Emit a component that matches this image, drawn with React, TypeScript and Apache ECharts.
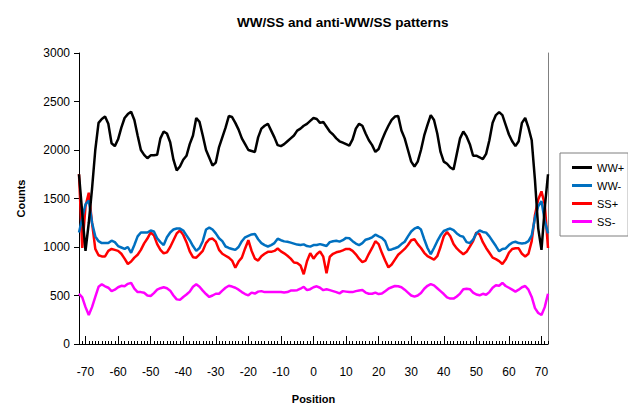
import { useEffect, useRef } from "react";
import * as echarts from "echarts";

// Categories: positions -72 .. 72
const positions: string[] = [];
for (let p = -72; p <= 72; p++) positions.push(String(p));

const seriesNames = ["WW+", "WW-", "SS+", "SS-"];
const seriesColors = ["#000000", "#0070C0", "#FF0000", "#FF00FF"];

const wwPlus = [
  1750, 1350, 960, 1250, 1600, 2000, 2280, 2320, 2345, 2270,
  2070, 2040, 2110, 2230, 2330, 2370, 2395, 2310, 2150, 2000,
  1950, 1915, 1945, 1945, 1950, 2120, 2190, 2170, 2080, 1900,
  1790, 1830, 1900, 1940, 2060, 2150, 2330, 2290, 2150, 2000,
  1920, 1840, 1870, 2030, 2130, 2230, 2350, 2340, 2280, 2210,
  2120, 2060, 2000, 1990, 1980, 2130, 2220, 2250, 2270, 2200,
  2130, 2050, 2040, 2060, 2090, 2120, 2150, 2200, 2220, 2250,
  2270, 2300, 2330, 2320, 2280, 2290, 2240, 2190, 2160, 2120,
  2090, 2075, 2060, 2045, 2110, 2220, 2270, 2250, 2170, 2100,
  2050, 1980, 2010, 2100, 2180, 2250, 2310, 2345, 2350, 2200,
  2120, 2000, 1880, 1830, 1880, 2000, 2150, 2260, 2360, 2310,
  2170, 1980, 1880, 1858, 1820, 1800, 1960, 2120, 2190, 2140,
  2060, 1941, 1941, 1925, 1905, 1960, 2100, 2280, 2360, 2390,
  2360, 2260, 2160, 2090, 2040, 2090, 2280, 2330, 2230, 2100,
  1690, 1190, 970, 1400, 1750,
];

const wwMinus = [
  1150, 1300, 1440, 1480, 1250, 1110, 1060, 1040, 1040, 1040,
  1065, 1050, 1010, 995, 980, 1000, 940, 1020, 1110, 1150,
  1150, 1150, 1170, 1160, 1090, 1050, 1020, 1100, 1150, 1180,
  1190, 1190, 1170, 1120, 1070, 1010, 960, 990, 1060, 1180,
  1200, 1180, 1140, 1090, 1060, 1005, 990, 980, 970, 1000,
  1060, 1100, 1115, 1130, 1135, 1080, 1040, 1020, 1005, 1020,
  1040, 1085, 1070, 1058, 1054, 1045, 1035, 1025, 1020, 1027,
  1010, 1004, 1020, 1020, 1030, 1020, 1010, 1050, 1060, 1064,
  1055, 1070, 1094, 1090, 1060, 1035, 1020, 1040, 1075, 1085,
  1100, 1127, 1110, 1095, 1060, 970, 975, 987, 1000, 1030,
  1054, 1110, 1160, 1190, 1205, 1180, 1080, 990, 926, 990,
  1060, 1120, 1165, 1180, 1190, 1175, 1140, 1115, 1105, 1050,
  1040, 1075, 1140, 1170, 1155, 1148, 1110, 1060, 1010, 955,
  980, 985, 1020, 1045, 1054, 1040, 1037, 1040, 1060, 1120,
  1300, 1420, 1473, 1270, 1140,
];

const ssPlus = [
  1750, 990, 1420, 1560, 1250, 980, 915, 903, 903, 960,
  980, 970, 960, 930, 880, 825, 850, 890, 920, 970,
  1037, 1087, 1150, 1120, 1030, 970, 935, 945, 1000, 1070,
  1140, 1170, 1125, 1050, 955, 895, 890, 925, 960, 1040,
  1080, 1087, 1055, 970, 930, 910, 890, 860, 786, 850,
  890, 985, 1070, 960, 880, 860, 905, 930, 950, 950,
  960, 985, 955, 935, 910, 880, 840, 836, 810, 719,
  853, 937, 880, 925, 955, 900, 730, 900, 930, 945,
  953, 965, 980, 980, 960, 925, 880, 845, 860, 930,
  990, 1060, 1030, 940, 860, 790, 820, 870, 920, 950,
  980, 1020, 1070, 1080, 1030, 990, 940, 905, 887, 870,
  905, 1000, 1110, 1154, 1110, 1030, 985, 953, 925, 950,
  1004, 1060, 1150, 1130, 1050, 990, 940, 890, 875, 855,
  825, 870, 940, 980, 987, 987, 930, 903, 930, 1060,
  1330, 1490, 1573, 1440, 990,
];

const ssMinus = [
  518, 480, 380, 300, 380, 485, 590, 615, 595, 580,
  545, 560, 585, 600, 595, 620, 630, 570, 535, 535,
  528, 500, 495, 525, 560, 575, 585, 575, 550, 500,
  460, 455, 485, 510, 540, 590, 615, 590, 550, 515,
  485, 500, 518, 518, 550, 580, 600, 592, 580, 560,
  535, 515, 502, 530, 520, 540, 545, 535, 535, 535,
  535, 535, 535, 530, 535, 551, 551, 555, 570, 590,
  555, 565, 585, 595, 580, 555, 565, 555, 545, 535,
  522, 545, 540, 535, 535, 545, 552, 556, 530, 518,
  518, 530, 515, 520, 545, 570, 585, 598, 595, 585,
  560, 530, 500, 488, 500, 525, 570, 600, 618, 605,
  575, 545, 515, 480, 468, 468, 490, 520, 565, 570,
  565, 530, 510, 502, 518, 508, 535, 580, 605, 600,
  630, 598, 580, 560, 540, 560, 585, 598, 560, 485,
  370, 320, 300, 380, 518,
];

const seriesData = [wwPlus, wwMinus, ssPlus, ssMinus];

const FONT = "'Liberation Sans', Arial, sans-serif";

export default function App() {
  const ref = useRef<HTMLDivElement>(null);
  useEffect(() => {
    const chart = echarts.init(ref.current!, null, { renderer: "svg" });
    const isMajor = (_i: number, v: string) => Number(v) % 10 === 0;
    chart.setOption({
      animation: false,
      backgroundColor: "#ffffff",
      textStyle: { fontFamily: FONT },
      title: {
        text: "WW/SS and anti-WW/SS patterns",
        left: 232,
        top: 10,
        textStyle: { fontSize: 13.5, fontWeight: "bold", color: "#000", fontFamily: FONT },
      },
      grid: { left: 79, right: 80, top: 53, bottom: 57, containLabel: false },
      legend: {
        orient: "vertical",
        left: 560,
        top: 153,
        icon: "rect",
        itemWidth: 20,
        itemHeight: 3,
        itemGap: 7,
        padding: [9, 4, 9, 12],
        borderColor: "#7f7f7f",
        borderWidth: 1,
        textStyle: { fontSize: 11, color: "#000", fontFamily: FONT },
        data: seriesNames,
      },
      xAxis: [
        {
          type: "category",
          data: positions,
          boundaryGap: false,
          position: "bottom",
          name: "Position",
          nameLocation: "middle",
          nameGap: 49,
          nameTextStyle: { fontSize: 11, fontWeight: "bold", color: "#000", fontFamily: FONT },
          axisLine: { lineStyle: { color: "#000", width: 1 } },
          axisTick: { show: true, interval: isMajor, inside: true, length: 8, lineStyle: { color: "#000" } },
          axisLabel: { interval: isMajor, margin: 22, fontSize: 12, color: "#000", fontFamily: FONT },
          splitLine: { show: false },
        },
        {
          type: "category",
          data: positions,
          boundaryGap: false,
          position: "bottom",
          axisLine: { show: false },
          axisTick: { show: true, interval: 0, inside: true, length: 3, lineStyle: { color: "#000" } },
          axisLabel: { show: false },
          splitLine: { show: false },
        },
      ],
      yAxis: [
        {
          type: "value",
          min: 0,
          max: 3000,
          interval: 500,
          name: "Counts",
          nameLocation: "middle",
          nameRotate: 90,
          nameGap: 53,
          nameTextStyle: { fontSize: 11, fontWeight: "bold", color: "#000", fontFamily: FONT },
          axisLine: { show: true, lineStyle: { color: "#000", width: 1 } },
          axisTick: { show: true, inside: false, length: 5, lineStyle: { color: "#000" } },
          axisLabel: {
            fontSize: 12,
            color: "#000",
            margin: 9,
            fontFamily: FONT,
            formatter: (v: number) => String(v),
          },
          splitLine: { show: false },
        },
        {
          type: "value",
          position: "right",
          min: 0,
          max: 3000,
          interval: 500,
          axisLine: { show: true, lineStyle: { color: "#808080", width: 1 } },
          axisTick: { show: false },
          axisLabel: { show: false },
          splitLine: { show: false },
        },
      ],
      series: seriesNames.map((name, i) => ({
        name,
        type: "line",
        xAxisIndex: 0,
        yAxisIndex: 0,
        data: seriesData[i],
        showSymbol: false,
        symbol: "none",
        lineStyle: { color: seriesColors[i], width: 2.5 },
        itemStyle: { color: seriesColors[i] },
        z: 10 - i,
      })),
    });
    return () => chart.dispose();
  }, []);
  return (
    <div
      ref={ref}
      style={{ position: "fixed", left: 0, top: 0, width: 628, height: 409 }}
    />
  );
}
